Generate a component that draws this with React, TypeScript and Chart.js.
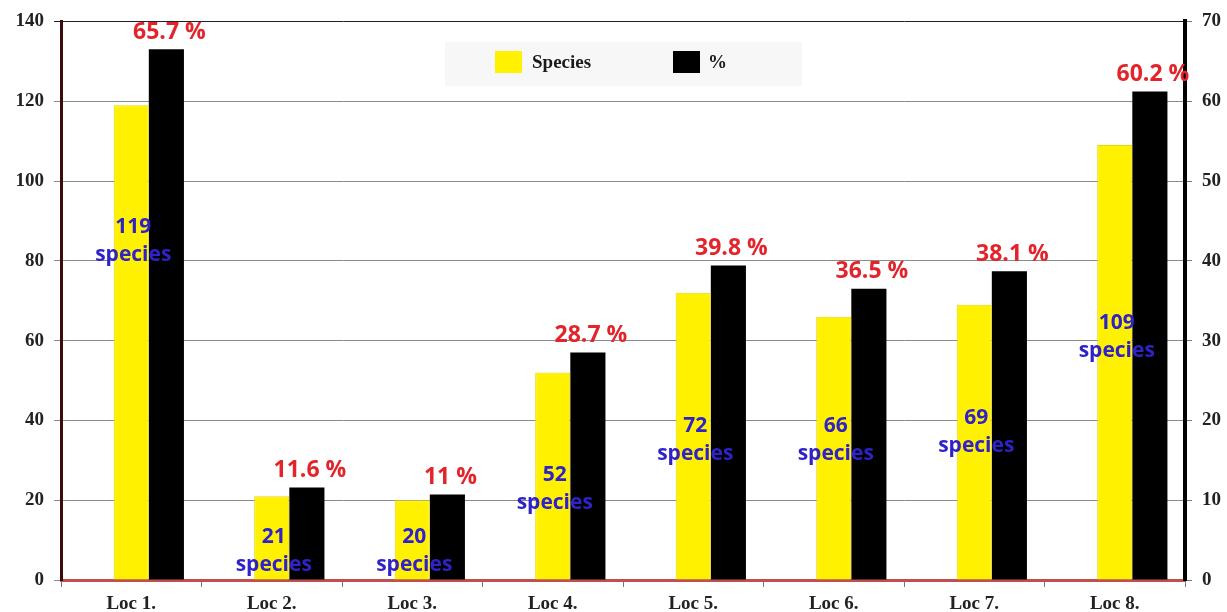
import React, { useEffect, useRef } from "react";
import { Chart, registerables } from "chart.js";

Chart.register(...registerables);

const categories = ["Loc 1.", "Loc 2.", "Loc 3.", "Loc 4.", "Loc 5.", "Loc 6.", "Loc 7.", "Loc 8."];
const speciesCounts = [119, 21, 20, 52, 72, 66, 69, 109];
const percentBars = [66.5, 11.6, 10.7, 28.5, 39.4, 36.5, 38.7, 61.2];
const percentLabels = ["65.7 %", "11.6 %", "11 %", "28.7 %", "39.8 %", "36.5 %", "38.1 %", "60.2 %"];
// where the blue "N species" annotation sits, in left-axis units
const speciesLabelAt = [85, 7.3, 7.3, 22.8, 35, 35, 37, 61];
const leftTicks = { min: 0, max: 140, step: 20 };
const rightTicks = { min: 0, max: 70, step: 10 };

const SERIF = "'Liberation Serif', 'Times New Roman', serif";
const SANS = "'Open Sans', 'DejaVu Sans', sans-serif";

const annotate = {
  id: "annotate",
  afterDatasetsDraw(chart: any) {
    const ctx = chart.ctx;
    const yScale = chart.scales.y;
    const spMeta = chart.getDatasetMeta(1);
    const pcMeta = chart.getDatasetMeta(2);
    ctx.save();
    ctx.textAlign = "center";
    ctx.textBaseline = "middle";
    // red percentage labels
    ctx.fillStyle = "#e3242b";
    ctx.font = `bold 23px ${SANS}`;
    pcMeta.data.forEach((bar: any, i: number) => {
      ctx.fillText(percentLabels[i], bar.x + 3, bar.y - 17);
    });
    // blue species labels
    ctx.fillStyle = "#2f22c8";
    ctx.font = `bold 21px ${SANS}`;
    spMeta.data.forEach((bar: any, i: number) => {
      const y = yScale.getPixelForValue(speciesLabelAt[i]);
      ctx.fillText(String(speciesCounts[i]), bar.x + 2, y - 14);
      ctx.fillText("species", bar.x + 2, y + 14);
    });
    ctx.restore();
  },
  afterDraw(chart: any) {
    const ctx = chart.ctx;
    ctx.save();
    ctx.fillStyle = "rgba(240,240,240,0.55)";
    ctx.fillRect(445, 42, 357, 44);
    const items = [
      { ds: chart.data.datasets[1], x: 495, tx: 532 },
      { ds: chart.data.datasets[2], x: 673, tx: 708 },
    ];
    ctx.font = `bold 19px ${SERIF}`;
    ctx.textBaseline = "middle";
    ctx.textAlign = "left";
    items.forEach((it) => {
      ctx.fillStyle = it.ds.backgroundColor;
      ctx.fillRect(it.x, 51, 27, 22);
      ctx.fillStyle = "#1a1a1a";
      ctx.fillText(it.ds.label, it.tx, 63);
    });
    ctx.restore();
  },
};

export default function App() {
  const ref = useRef<HTMLCanvasElement | null>(null);
  useEffect(() => {
    if (!ref.current) return;
    const chart = new Chart(ref.current, {
      type: "bar",
      data: {
        labels: categories,
        datasets: [
          { label: "", data: categories.map(() => null), backgroundColor: "rgba(0,0,0,0)", yAxisID: "y" },
          {
            label: "Species",
            data: speciesCounts,
            backgroundColor: "#fff100",
            borderColor: "#e6d800",
            borderWidth: 1,
            yAxisID: "y",
          },
          { label: "%", data: percentBars, backgroundColor: "#000000", yAxisID: "y1" },
        ],
      },
      options: {
        animation: false,
        responsive: false,
        devicePixelRatio: 1,
        datasets: { bar: { categoryPercentage: 0.75, barPercentage: 1.0 } },
        layout: { padding: { top: 20, left: 0, right: 0, bottom: 0 } },
        plugins: { legend: { display: false }, tooltip: { enabled: false } },
        scales: {
          x: {
            offset: true,
            grid: { display: true, drawOnChartArea: false, offset: true, tickLength: 7, color: "#777" },
            border: { color: "#c0504d", width: 3 },
            ticks: { color: "#222", padding: 6, font: { family: SERIF, weight: "bold", size: 19 } },
            afterFit: (s: any) => { s.height = 32; },
          },
          y: {
            position: "left",
            min: leftTicks.min,
            max: leftTicks.max,
            ticks: { stepSize: leftTicks.step, color: "#222", padding: 10, font: { family: SERIF, weight: "bold", size: 19 } },
            grid: {
              color: (c: any) => (c.tick && c.tick.value === leftTicks.max ? "#222" : "#8a8a8a"),
              lineWidth: 1,
              tickLength: 7,
            },
            border: { color: "#3b0b0b", width: 3 },
            afterFit: (s: any) => { s.width = 61; },
          },
          y1: {
            position: "right",
            min: rightTicks.min,
            max: rightTicks.max,
            ticks: { stepSize: rightTicks.step, color: "#222", padding: 10, font: { family: SERIF, weight: "bold", size: 19 } },
            grid: { drawOnChartArea: false, tickLength: 7, color: "#777" },
            border: { color: "#000", width: 4 },
            afterFit: (s: any) => { s.width = 42; },
          },
        },
      },
      plugins: [annotate],
    } as any);
    return () => chart.destroy();
  }, []);
  return (
    <div style={{ position: "absolute", left: 0, top: 0, width: 1227, height: 612, background: "#fff" }}>
      <canvas ref={ref} width={1227} height={612} />
    </div>
  );
}
